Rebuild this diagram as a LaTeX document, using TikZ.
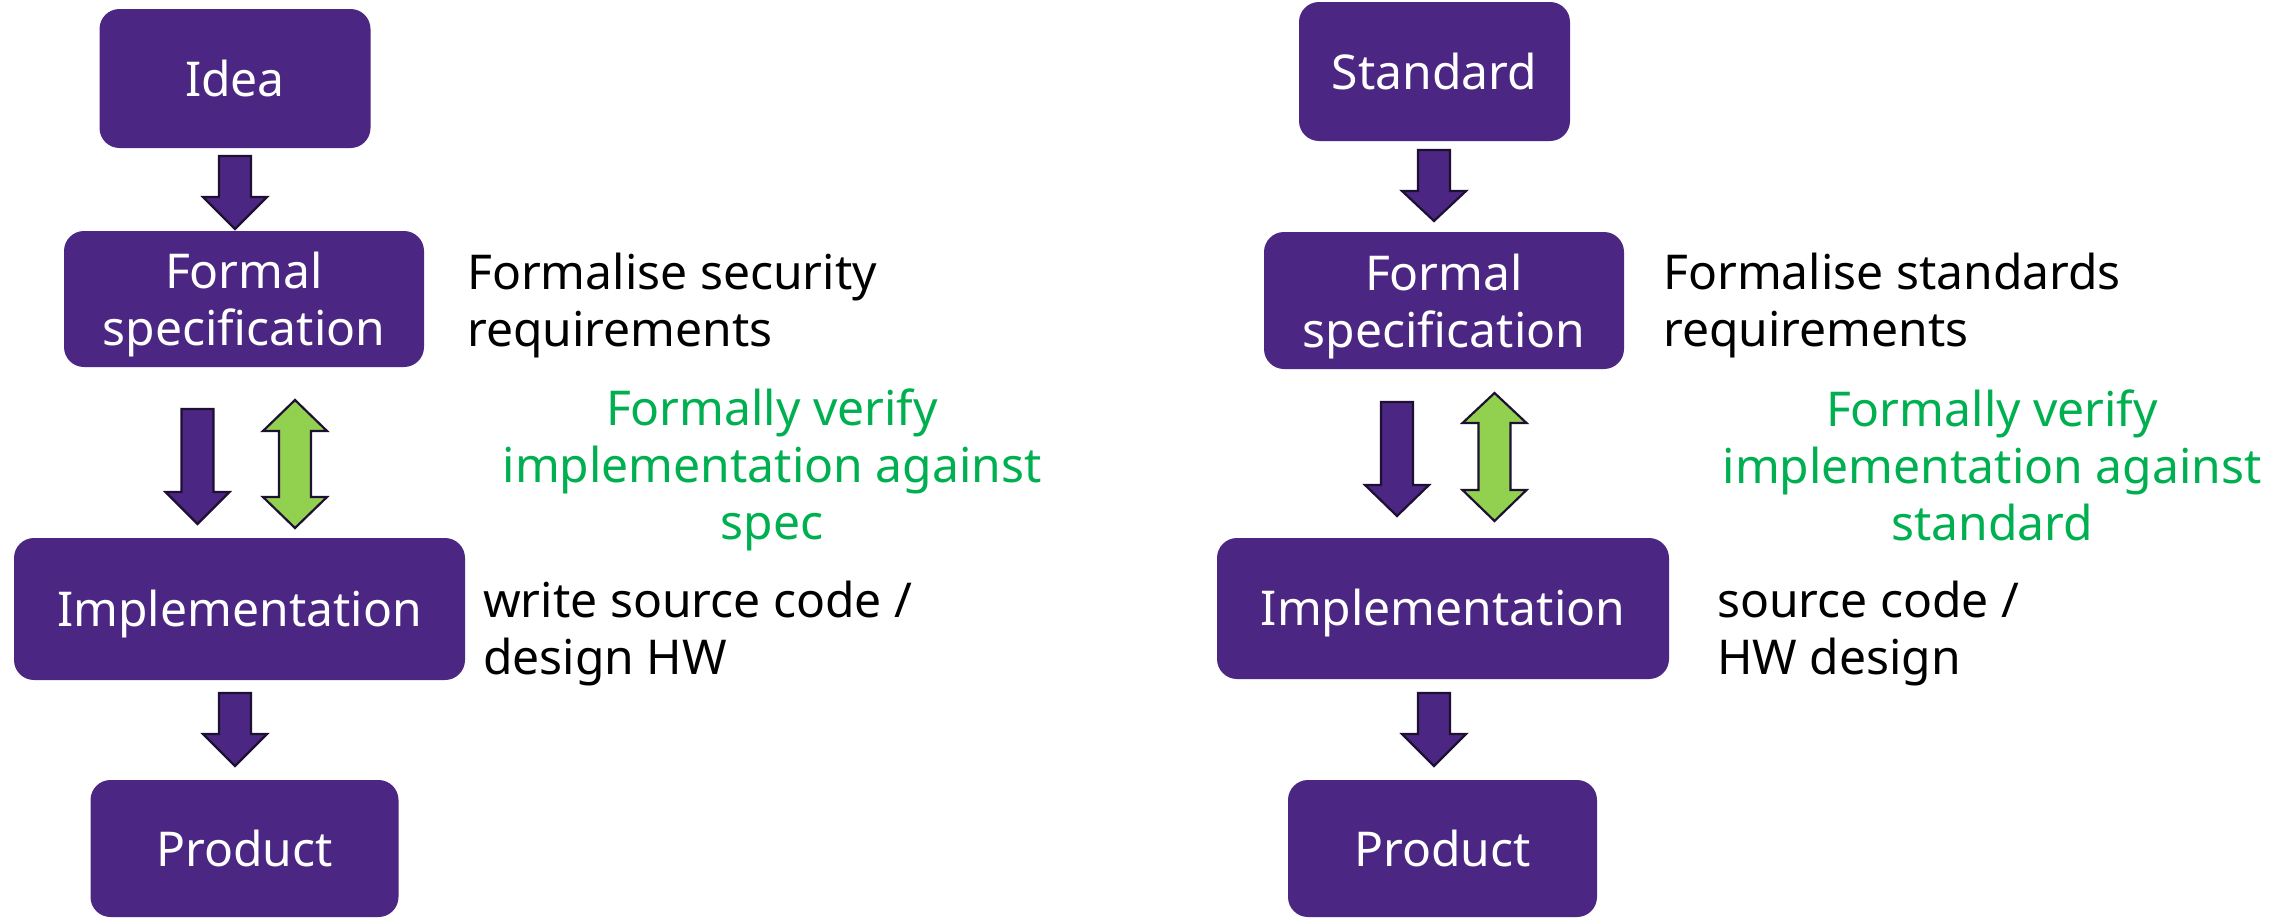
\documentclass[tikz,border=0pt]{standalone}
\usepackage{fontspec}
\setmainfont{Noto Sans}
\definecolor{purp}{RGB}{75,38,130}
\definecolor{lgreen}{RGB}{146,208,80}
\definecolor{dgreen}{RGB}{0,176,80}
\definecolor{outl}{RGB}{30,16,50}
\tikzset{
  box/.style={fill=purp, draw=none, rounded corners=20pt, text=white, align=center,
    inner sep=0pt, font=\fontsize{48}{57}\selectfont},
  note/.style={inner sep=0pt, align=left, anchor=north west, font=\fontsize{48}{57}\selectfont},
  gnote/.style={inner sep=0pt, align=center, anchor=north, text=dgreen, font=\fontsize{48}{57}\selectfont},
  blockarrow/.style={draw=outl, line width=2.2pt, line join=miter}
}
% single down block arrow: x, top, head start, tip, fill
\newcommand\blkdown[5]{%
  \filldraw[blockarrow, fill=#5] (#1-16,#2) -- (#1+16,#2) -- (#1+16,#3) -- (#1+32,#3)
    -- (#1,#4) -- (#1-32,#3) -- (#1-16,#3) -- cycle;}
% double block arrow: x, top tip, head base, lower head base, bottom tip
\newcommand\blkboth[5]{%
  \filldraw[blockarrow, fill=lgreen] (#1,#2) -- (#1+32,#3) -- (#1+16,#3) -- (#1+16,#4)
    -- (#1+32,#4) -- (#1,#5) -- (#1-32,#4) -- (#1-16,#4) -- (#1-16,#3) -- (#1-32,#3) -- cycle;}
\begin{document}
\begin{tikzpicture}[x=1pt, y=-1pt]
\useasboundingbox (0,0) rectangle (2293,918);
% left column
\node[box, minimum width=271pt, minimum height=139pt] (idea) at (235,78.5) {Idea};
\node[box, minimum width=360pt, minimum height=136pt, text depth=0pt] (specL) at (244,299) {Formal\\specification};
\node[box, minimum width=451pt, minimum height=142pt, text depth=1.5pt] (implL) at (239.5,609) {Implementation};
\node[box, minimum width=308pt, minimum height=137pt] (prodL) at (244.5,848.5) {Product};
\blkdown{235}{156}{197}{229}{purp}
\blkdown{197.5}{409}{492}{524}{purp}
\blkboth{295}{400}{431}{497}{528}
\blkdown{235}{693}{734}{766}{purp}
\node[note] (fsL) at (467,253) {Formalise security\\requirements};
\node[gnote] (fvL) at (772,389) {Formally verify\\implementation against\\spec};
\node[note] (wsL) at (483,581) {write source code /\\design HW};
% right column
\node[box, minimum width=271pt, minimum height=139pt] (std) at (1434.5,71.5) {Standard};
\node[box, minimum width=360pt, minimum height=137pt, text depth=0pt] (specR) at (1444,300.5) {Formal\\specification};
\node[box, minimum width=452pt, minimum height=141pt, text depth=1.5pt] (implR) at (1443,608.5) {Implementation};
\node[box, minimum width=309pt, minimum height=137pt] (prodR) at (1442.5,848.5) {Product};
\blkdown{1434}{150}{191}{221}{purp}
\blkdown{1397}{402}{485}{516}{purp}
\blkboth{1494.5}{393}{423}{490}{521}
\blkdown{1434}{693}{734}{766}{purp}
\node[note] (fsR) at (1663,253) {Formalise standards\\requirements};
\node[gnote] (fvR) at (1992,390) {Formally verify\\implementation against\\standard};
\node[note] (wsR) at (1717,581) {source code /\\HW design};
\end{tikzpicture}
\end{document}
